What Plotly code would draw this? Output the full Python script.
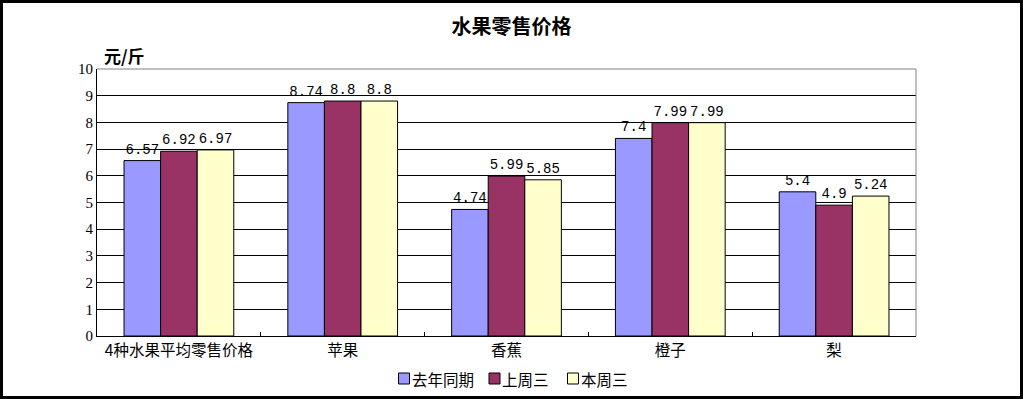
import plotly.graph_objects as go

categories = ["4种水果平均零售价格", "苹果", "香蕉", "橙子", "梨"]
series_names = ["去年同期", "上周三", "本周三"]
last_year = [6.57, 8.74, 4.74, 7.4, 5.4]
last_wed = [6.92, 8.8, 5.99, 7.99, 4.9]
this_wed = [6.97, 8.8, 5.85, 7.99, 5.24]
y_ticks = list(range(0, 11))

colors = ["#9999FF", "#993366", "#FFFFCC"]
cjk = "Noto Sans CJK SC"

W, H = 1023, 399
L, R, T, B = 97, 107, 69, 63
PW, PH = W - L - R, H - T - B


def xp(px):
    return (px - L) / PW


def yp(py):
    return (H - B - py) / PH


fig = go.Figure()
for name, vals, col in zip(series_names, [last_year, last_wed, this_wed], colors):
    fig.add_trace(go.Bar(
        x=categories, y=vals, name=name,
        marker=dict(color=col, line=dict(color="black", width=1)),
        text=[f"{v:g}" for v in vals], textposition="outside",
        textfont=dict(family="Liberation Mono", size=14, color="black"),
        cliponaxis=False, showlegend=False,
    ))

# legend drawn as swatches + labels (positions in pixels of the picture)
legend_icon_x = [398.5, 489, 567.5]
legend_y = 378.5
shapes = []
annotations = []
for name, col, ix in zip(series_names, colors, legend_icon_x):
    shapes.append(dict(type="rect", xref="paper", yref="paper",
                       x0=xp(ix), x1=xp(ix + 11), y0=yp(legend_y + 5.5), y1=yp(legend_y - 5.5),
                       fillcolor=col, line=dict(color="black", width=1)))
    annotations.append(dict(text=name, xref="paper", yref="paper", x=xp(ix + 11),
                            y=yp(legend_y), xanchor="left", yanchor="middle", showarrow=False,
                            font=dict(family=cjk, size=15.5, color="black")))

annotations.append(dict(text="<b>元/斤</b>", xref="paper", yref="paper",
                        x=xp(124), y=yp(55), showarrow=False,
                        xanchor="center", yanchor="middle",
                        font=dict(family=cjk, size=17, color="black")))

shapes += [
    dict(type="line", xref="paper", yref="paper", x0=0, x1=1, y0=1, y1=1,
         line=dict(color="#808080", width=1)),
    dict(type="line", xref="paper", yref="paper", x0=1, x1=1, y0=0, y1=1,
         line=dict(color="#808080", width=1)),
    dict(type="rect", xref="paper", yref="paper",
         x0=xp(1.5), x1=xp(1021.5), y0=yp(397.5), y1=yp(1.5),
         line=dict(color="black", width=3)),
]

fig.update_layout(
    width=W, height=H, autosize=False,
    margin=dict(l=L, r=R, t=T, b=B),
    paper_bgcolor="white", plot_bgcolor="white",
    barmode="group", bargap=0.33, bargroupgap=0,
    title=dict(text="<b>水果零售价格</b>", x=0.5, xanchor="center", y=1 - 27 / H,
               yanchor="middle", yref="container",
               font=dict(family=cjk, size=20, color="black")),
    font=dict(family=cjk, color="black"),
    showlegend=False,
    xaxis=dict(showline=True, linecolor="black", linewidth=1,
               ticks="inside", ticklen=4, tickcolor="black", tickson="boundaries",
               tickfont=dict(family=cjk, size=15.5, color="black"), showgrid=False),
    yaxis=dict(range=[0, 10], tickvals=y_ticks, showline=True, linecolor="black", linewidth=1,
               showgrid=True, gridcolor="black", gridwidth=1, zeroline=False,
               tickfont=dict(family="Liberation Serif", size=15, color="black"), ticks=""),
    annotations=annotations,
    shapes=shapes,
)

fig.write_html(
    "out.html",
    config={"displayModeBar": False, "responsive": False},
    post_script="document.body.style.margin='0px';document.body.style.overflow='hidden';",
)
